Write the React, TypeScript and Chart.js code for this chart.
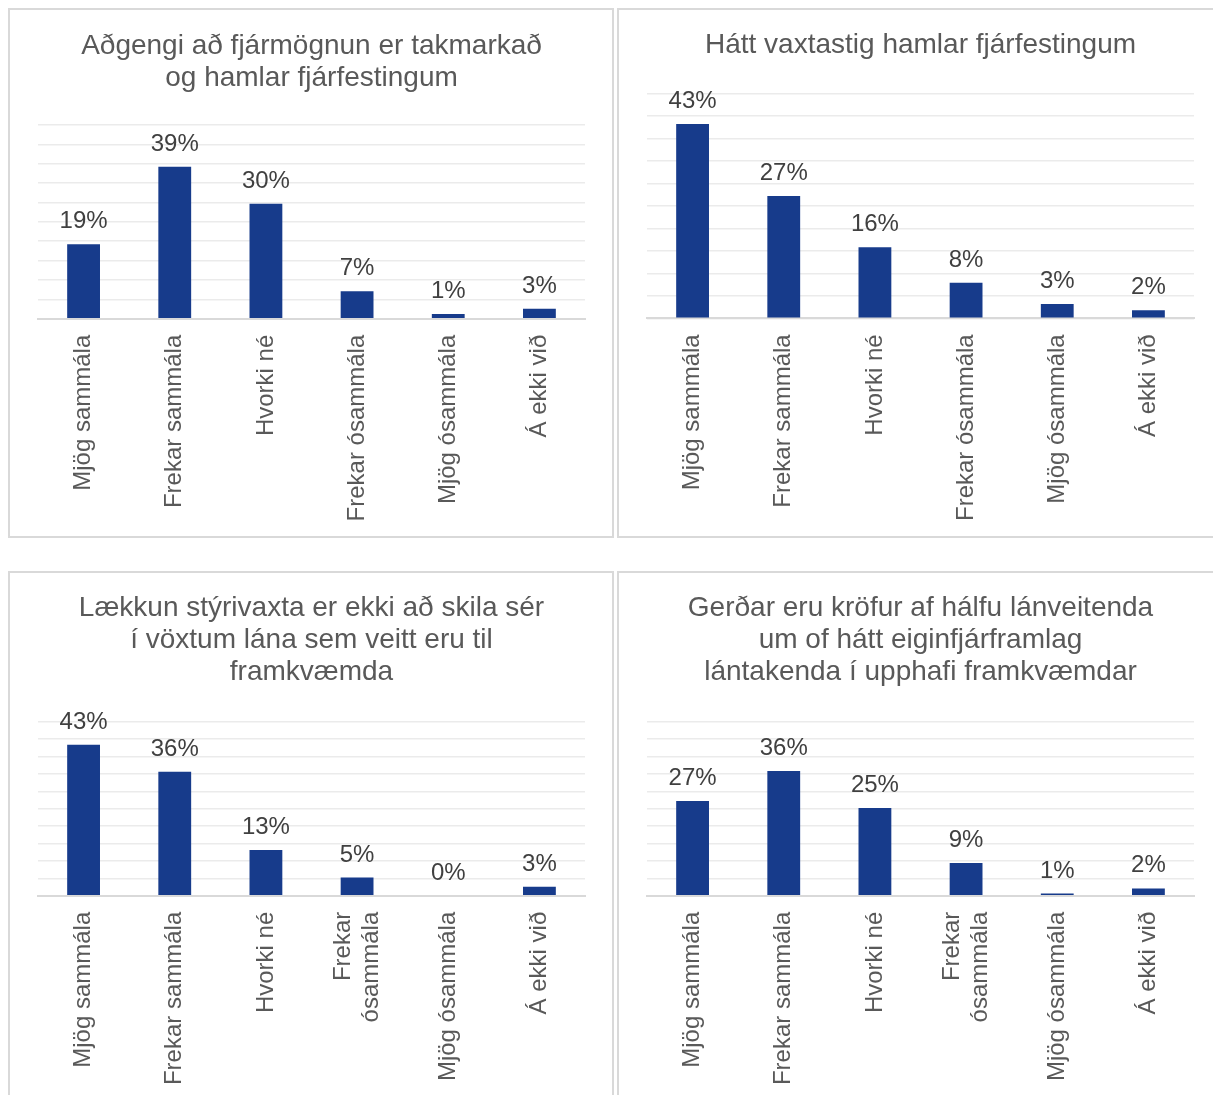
import React, { useEffect, useRef } from "react";
import { Chart, registerables } from "chart.js";

Chart.register(...registerables);

const FONT = "'Liberation Sans', Arial, Helvetica, sans-serif";

// ---- data ----
const categoriesTop: (string | string[])[] = [
  "Mjög sammála",
  "Frekar sammála",
  "Hvorki né",
  "Frekar ósammála",
  "Mjög ósammála",
  "Á ekki við",
];
const categoriesBottom: (string | string[])[] = [
  "Mjög sammála",
  "Frekar sammála",
  "Hvorki né",
  ["Frekar", "ósammála"],
  "Mjög ósammála",
  "Á ekki við",
];

const title1 = ["Aðgengi að fjármögnun er takmarkað", "og hamlar fjárfestingum"];
const title2 = ["Hátt vaxtastig hamlar fjárfestingum"];
const title3 = ["Lækkun stýrivaxta er ekki að skila sér", "í vöxtum lána sem veitt eru til", "framkvæmda"];
const title4 = ["Gerðar eru kröfur af hálfu lánveitenda", "um of hátt eiginfjárframlag", "lántakenda í upphafi framkvæmdar"];

const values1 = [19.2, 39.2, 29.7, 7.1, 1.2, 2.6];
const values2 = [43.2, 27.2, 15.8, 7.9, 3.2, 1.8];
const values3 = [43.4, 35.6, 13.1, 5.2, 0, 2.6];
const values4 = [27.2, 35.8, 25.2, 9.4, 0.6, 2.1];

const yMin = 0;
const yMax = 50;
const yStep = 5;

// ---- styles ----
const BAR_COLOR = "#173B8B";
const TEXT_COLOR = "#595959";
const LABEL_COLOR = "#404040";

const dataLabelPlugin = {
  id: "dataLabels",
  afterDatasetsDraw(chart: any) {
    const ctx = chart.ctx;
    const meta = chart.getDatasetMeta(0);
    const ds = chart.data.datasets[0];
    ctx.save();
    ctx.font = `24px ${FONT}`;
    ctx.fillStyle = LABEL_COLOR;
    ctx.textAlign = "center";
    ctx.textBaseline = "alphabetic";
    meta.data.forEach((el: any, i: number) => {
      const v = ds.data[i] as number;
      ctx.fillText(`${Math.round(v)}%`, el.x, el.y - 16);
    });
    ctx.restore();
  },
};

const centerMultilinePlugin = {
  id: "centerMultiline",
  beforeDraw(chart: any) {
    const sc: any = chart.scales.x;
    if (!sc || !sc.getLabelItems) return;
    const items = sc.getLabelItems();
    items.forEach((it: any) => {
      if (Array.isArray(it.label) && it.label.length > 1 && !it._shifted) {
        const lh = it.font.lineHeight;
        it.options.translation[0] -= ((it.label.length - 1) * lh) / 2;
        it._shifted = true;
      }
    });
  },
};

type PanelProps = {
  left: number;
  top: number;
  title: string[];
  labels: (string | string[])[];
  values: number[];
  titlePadTop: number;
  titlePadBottom: number;
  xAxisHeight: number;
};

const PANEL_W = 606;
const PANEL_H = 530;
const BORDER = 2;

function Panel(p: PanelProps) {
  const ref = useRef<HTMLCanvasElement | null>(null);
  useEffect(() => {
    if (!ref.current) return;
    const chart = new Chart(ref.current, {
      type: "bar",
      data: {
        labels: p.labels as any,
        datasets: [
          {
            data: p.values,
            backgroundColor: BAR_COLOR,
            borderWidth: 0,
            barPercentage: 0.36,
            categoryPercentage: 1,
          },
        ],
      },
      options: {
        responsive: false,
        animation: false,
        devicePixelRatio: 1,
        layout: { padding: { left: 28, right: 27, top: 0, bottom: 0 } },
        plugins: {
          legend: { display: false },
          tooltip: { enabled: false },
          title: {
            display: true,
            text: p.title,
            color: TEXT_COLOR,
            font: { family: FONT, size: 28, weight: "normal", lineHeight: 1.15 },
            padding: { top: p.titlePadTop, bottom: p.titlePadBottom },
          },
        },
        scales: {
          x: {
            grid: { display: false, drawTicks: false },
            border: { display: true, color: "#d9d9d9", width: 2 },
            ticks: {
              color: TEXT_COLOR,
              font: { family: FONT, size: 24, lineHeight: 1.15 },
              minRotation: 90,
              maxRotation: 90,
              autoSkip: false,
              padding: 16,
            },
            afterFit: (scale: any) => {
              scale.height = p.xAxisHeight;
            },
          },
          y: {
            min: yMin,
            max: yMax,
            ticks: { display: false, stepSize: yStep },
            grid: { color: "#ebebeb", lineWidth: 1.5, drawTicks: false },
            border: { display: false },
          },
        },
      },
      plugins: [dataLabelPlugin, centerMultilinePlugin],
    } as any);
    return () => chart.destroy();
  }, []);
  return (
    <div
      style={{
        position: "absolute",
        left: p.left,
        top: p.top,
        width: PANEL_W,
        height: PANEL_H,
        border: `${BORDER}px solid #d9d9d9`,
        boxSizing: "border-box",
        background: "#fff",
      }}
    >
      <canvas
        ref={ref}
        width={PANEL_W - 2 * BORDER}
        height={PANEL_H - 2 * BORDER}
        style={{ display: "block", width: PANEL_W - 2 * BORDER, height: PANEL_H - 2 * BORDER }}
      />
    </div>
  );
}

export default function App() {
  return (
    <div
      style={{
        position: "fixed",
        left: 0,
        top: 0,
        width: 1213,
        height: 1095,
        overflow: "hidden",
        background: "#fff",
        fontFamily: FONT,
      }}
    >
      <Panel left={8} top={8} title={title1} labels={categoriesTop} values={values1} titlePadTop={20} titlePadBottom={30.6} xAxisHeight={217.3} />
      <Panel left={617} top={8} title={title2} labels={categoriesTop} values={values2} titlePadTop={19} titlePadBottom={32.1} xAxisHeight={217.7} />
      <Panel left={8} top={571} title={title3} labels={categoriesBottom} values={values3} titlePadTop={19} titlePadBottom={33.1} xAxisHeight={203.3} />
      <Panel left={617} top={571} title={title4} labels={categoriesBottom} values={values4} titlePadTop={19} titlePadBottom={33.1} xAxisHeight={203.3} />
    </div>
  );
}
